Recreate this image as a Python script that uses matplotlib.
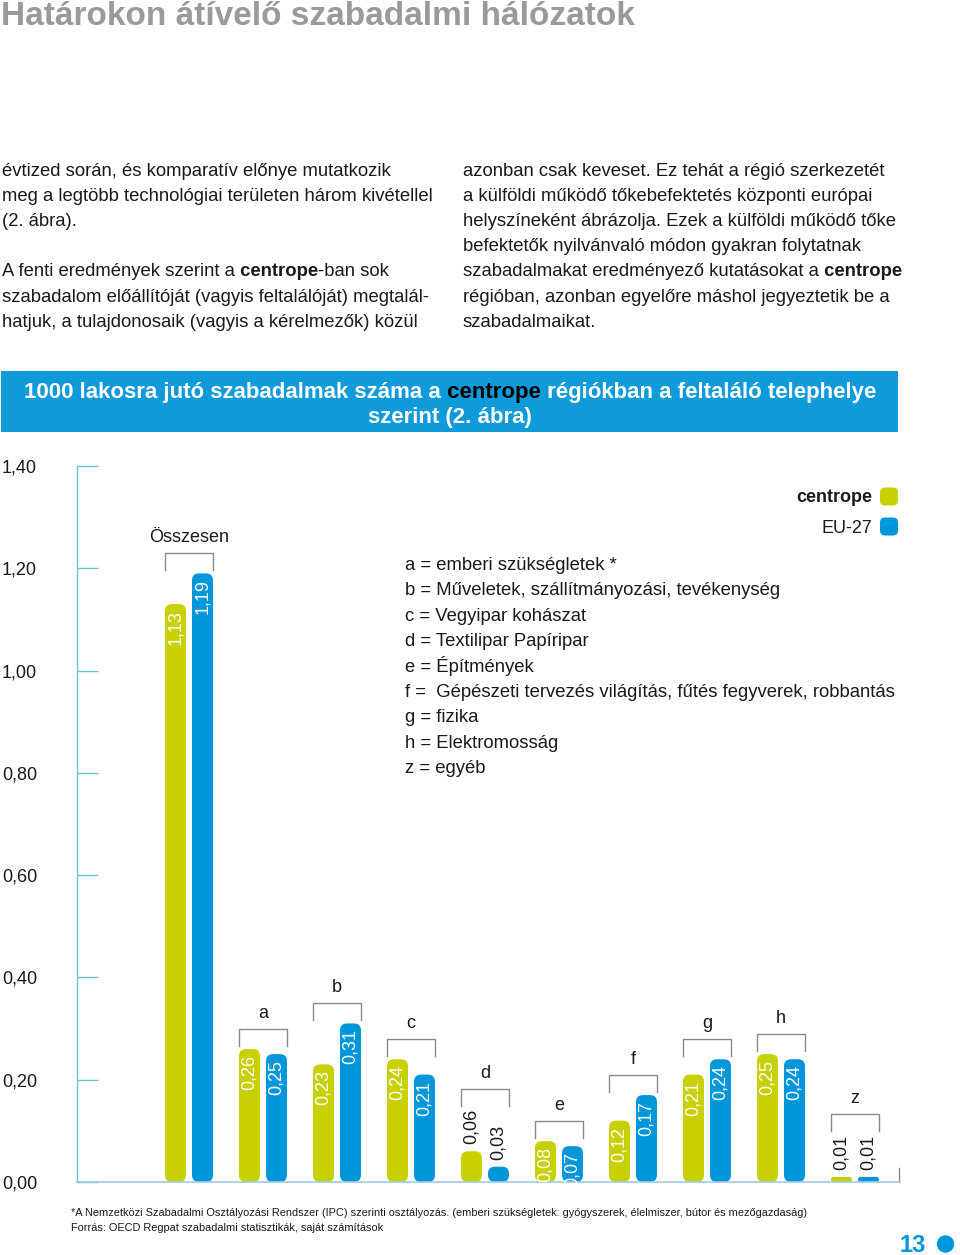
import matplotlib
matplotlib.use('Agg')
import matplotlib.pyplot as plt
from matplotlib.patches import FancyBboxPatch, Circle, Rectangle

plt.rcParams['font.family'] = ['Liberation Sans', 'DejaVu Sans']

# ---------------- data ----------------
groups = ['Összesen', 'a', 'b', 'c', 'd', 'e', 'f', 'g', 'h', 'z']
centrope = [1.13, 0.26, 0.23, 0.24, 0.06, 0.08, 0.12, 0.21, 0.25, 0.01]
eu27 = [1.19, 0.25, 0.31, 0.21, 0.03, 0.07, 0.17, 0.24, 0.24, 0.01]
series_names = ['centrope', 'EU-27']
ytick_values = [0.0, 0.2, 0.4, 0.6, 0.8, 1.0, 1.2, 1.4]
ytick_labels = ['0,00', '0,20', '0,40', '0,60', '0,80', '1,00', '1,20', '1,40']
definitions = [
    'a = emberi szükségletek *',
    'b = Műveletek, szállítmányozási, tevékenység',
    'c = Vegyipar kohászat',
    'd = Textilipar Papíripar',
    'e = Építmények',
    'f =  Gépészeti tervezés világítás, fűtés fegyverek, robbantás',
    'g = fizika',
    'h = Elektromosság',
    'z = egyéb',
]
page_title = 'Határokon átívelő szabadalmi hálózatok'
chart_title_1 = [('1000 lakosra jutó szabadalmak száma a', 'white'),
                 (' centrope', 'black'),
                 (' régiókban a feltaláló telephelye', 'white')]
chart_title_2 = 'szerint (2. ábra)'
left_col = [
    [('évtized során, és komparatív előnye mutatkozik', 'normal')],
    [('meg a legtöbb technológiai területen három kivétellel', 'normal')],
    [('(2. ábra).', 'normal')],
    [],
    [('A fenti eredmények szerint a', 'normal'), (' centrope', 'bold'), ('-ban sok', 'normal')],
    [('szabadalom előállítóját (vagyis feltalálóját) megtalál-', 'normal')],
    [('hatjuk, a tulajdonosaik (vagyis a kérelmezők) közül', 'normal')],
]
right_col = [
    [('azonban csak keveset. Ez tehát a régió szerkezetét', 'normal')],
    [('a külföldi működő tőkebefektetés központi európai', 'normal')],
    [('helyszíneként ábrázolja. Ezek a külföldi működő tőke', 'normal')],
    [('befektetők nyilvánvaló módon gyakran folytatnak', 'normal')],
    [('szabadalmakat eredményező kutatásokat a', 'normal'), (' centrope', 'bold')],
    [('régióban, azonban egyelőre máshol jegyeztetik be a', 'normal')],
    [('szabadalmaikat.', 'normal')],
]
footnotes = [
    '*A Nemzetközi Szabadalmi Osztályozási Rendszer (IPC) szerinti osztályozás. '
    '(emberi szükségletek: gyógyszerek, élelmiszer, bútor és mezőgazdaság)',
    'Forrás: OECD Regpat szabadalmi statisztikák, saját számítások',
]
page_number = '13'

# ---------------- style ----------------
YEL = '#c8d000'
BLU = '#0096da'
BOX = '#0f9ad9'
TITLE_GRAY = '#9a9a9a'
BRACKET = '#8a8a8a'
AXIS_TEAL = '#6cc4c6'
BASE = '#9fcbe4'
TXT = '#1a1a1a'

W, H = 960, 1255
fig = plt.figure(figsize=(W / 100, H / 100), dpi=100)

# page layer in pixel coordinates
pg = fig.add_axes([0, 0, 1, 1])
pg.set_xlim(0, W)
pg.set_ylim(H, 0)
pg.axis('off')
pg.patch.set_visible(False)

renderer = fig.canvas.get_renderer()


def mixed(pieces, x, y, size, ha='left', default_color=TXT, bold_all=False):
    """Draw a line made of several differently styled pieces."""
    first = None
    prev = None
    arts = []
    for txt, sty in pieces:
        if sty in ('normal', 'bold'):
            weight, color = sty, default_color
        else:
            weight, color = 'normal', sty
        if bold_all:
            weight = 'bold'
        if prev is None:
            t = pg.text(x, y, txt, fontsize=size, fontweight=weight, color=color,
                        ha='left', va='baseline')
            first = t
        else:
            t = pg.annotate(txt, xy=(1, 0), xycoords=prev, fontsize=size,
                            fontweight=weight, color=color, ha='left', va='bottom')
        arts.append(t)
        prev = t
    if ha == 'center' and first is not None:
        total = sum(a.get_window_extent(renderer).width for a in arts)
        first.set_x(x - total / 2)
    return arts


# page title
pg.text(1, 25, page_title, fontsize=24, fontweight='bold', color=TITLE_GRAY,
        ha='left', va='baseline')

# two text columns
for k, line in enumerate(left_col):
    if line:
        mixed(line, 2, 175.5 + 25.2 * k, 13.3)
for k, line in enumerate(right_col):
    if line:
        mixed(line, 463, 175.5 + 25.2 * k, 13.3)

# blue chart title box
pg.add_patch(Rectangle((1, 371), 897, 61, facecolor=BOX, edgecolor='none'))
mixed(chart_title_1, 450, 398, 16, ha='center', bold_all=True)
pg.text(450, 423, chart_title_2, fontsize=16, fontweight='bold', color='white',
        ha='center', va='baseline')

# legend
for k, (name, col) in enumerate(zip(series_names, [YEL, BLU])):
    yc = 496.5 + 30 * k
    pg.add_patch(FancyBboxPatch((880, yc - 9), 18, 18,
                                boxstyle='round,pad=0,rounding_size=5',
                                facecolor=col, edgecolor='none'))
    pg.text(872, yc + 5 if k == 0 else yc + 6.5, name, fontsize=13,
            fontweight='bold' if k == 0 else 'normal', color=TXT,
            ha='right', va='baseline')

# definitions
for k, d in enumerate(definitions):
    pg.text(405, 570 + 25.4 * k, d, fontsize=13.3, color=TXT, ha='left', va='baseline')

# footnotes
for k, f in enumerate(footnotes):
    pg.text(71, 1216 + 15 * k, f, fontsize=7.95, color=TXT,
            ha='left', va='baseline')

# page number
pg.text(926, 1252, page_number, fontsize=17, fontweight='bold', color=BLU,
        ha='right', va='baseline')
pg.add_patch(Circle((945.5, 1244), 8.7, facecolor=BLU, edgecolor='none'))

# ---------------- chart ----------------
ax_l, ax_r, ax_t, ax_b = 77, 899, 466, 1182
ax = fig.add_axes([ax_l / W, 1 - ax_b / H, (ax_r - ax_l) / W, (ax_b - ax_t) / H])
ax.patch.set_visible(False)
step_px = 74.0
first_px = 189.0
ax.set_xlim((ax_l - first_px) / step_px, (ax_r - first_px) / step_px)
ax.set_ylim(0, 1.4)
px_x = 1 / step_px
px_y = 1.4 / (ax_b - ax_t)

for s in ('top', 'right'):
    ax.spines[s].set_visible(False)
ax.spines['left'].set_color(AXIS_TEAL)
ax.spines['left'].set_linewidth(1)
ax.spines['bottom'].set_color(BASE)
ax.spines['bottom'].set_linewidth(1.2)
ax.set_xticks([])
ax.set_yticks(ytick_values)
ax.set_yticklabels(ytick_labels)
ax.tick_params(axis='y', direction='in', length=21 * 0.72, width=1, color=AXIS_TEAL,
               pad=75 * 0.72, labelsize=13, labelcolor=TXT)
for lab in ax.get_yticklabels():
    lab.set_horizontalalignment('left')
ax.plot([1, 1], [0, 14 / (ax_b - ax_t)], transform=ax.transAxes, color=BRACKET,
        lw=1, clip_on=False)

bw = 21 * px_x
off = 13.5 * px_x
aspect = px_y / px_x
label_len = 35 * px_y
gap_in = 6 * px_y
gap_out = 7 * px_y
leg = 17 * px_y

for i, g in enumerate(groups):
    tops = []
    for v, dx, col in ((centrope[i], -off, YEL), (eu27[i], off, BLU)):
        x = i + dx
        rs = min(7 * px_x, (v / aspect) / 2, bw / 2)
        ax.add_patch(FancyBboxPatch((x - bw / 2, 0), bw, v,
                                    boxstyle=f'round,pad=0,rounding_size={rs}',
                                    mutation_aspect=aspect,
                                    facecolor=col, edgecolor='none', zorder=2))
        lab = f'{v:.2f}'.replace('.', ',')
        if v >= 0.07:
            ax.text(x, v - gap_in, lab, rotation=90, ha='center', va='top',
                    color='white', fontsize=13, zorder=3)
            tops.append(v)
        else:
            ax.text(x, v + gap_out, lab, rotation=90, ha='center', va='bottom',
                    color=TXT, fontsize=13, zorder=3)
            tops.append(v + gap_out + label_len)
    by = max(tops) + 0.04
    xl = i - off - bw / 2
    xr = i + off + bw / 2
    ax.plot([xl, xl, xr, xr], [by - leg, by, by, by - leg], color=BRACKET, lw=1,
            clip_on=False)
    ax.text(i, by + 11 * px_y, g, ha='center', va='baseline', fontsize=13,
            color=TXT, clip_on=False)

fig.savefig('out.png', dpi=100)
